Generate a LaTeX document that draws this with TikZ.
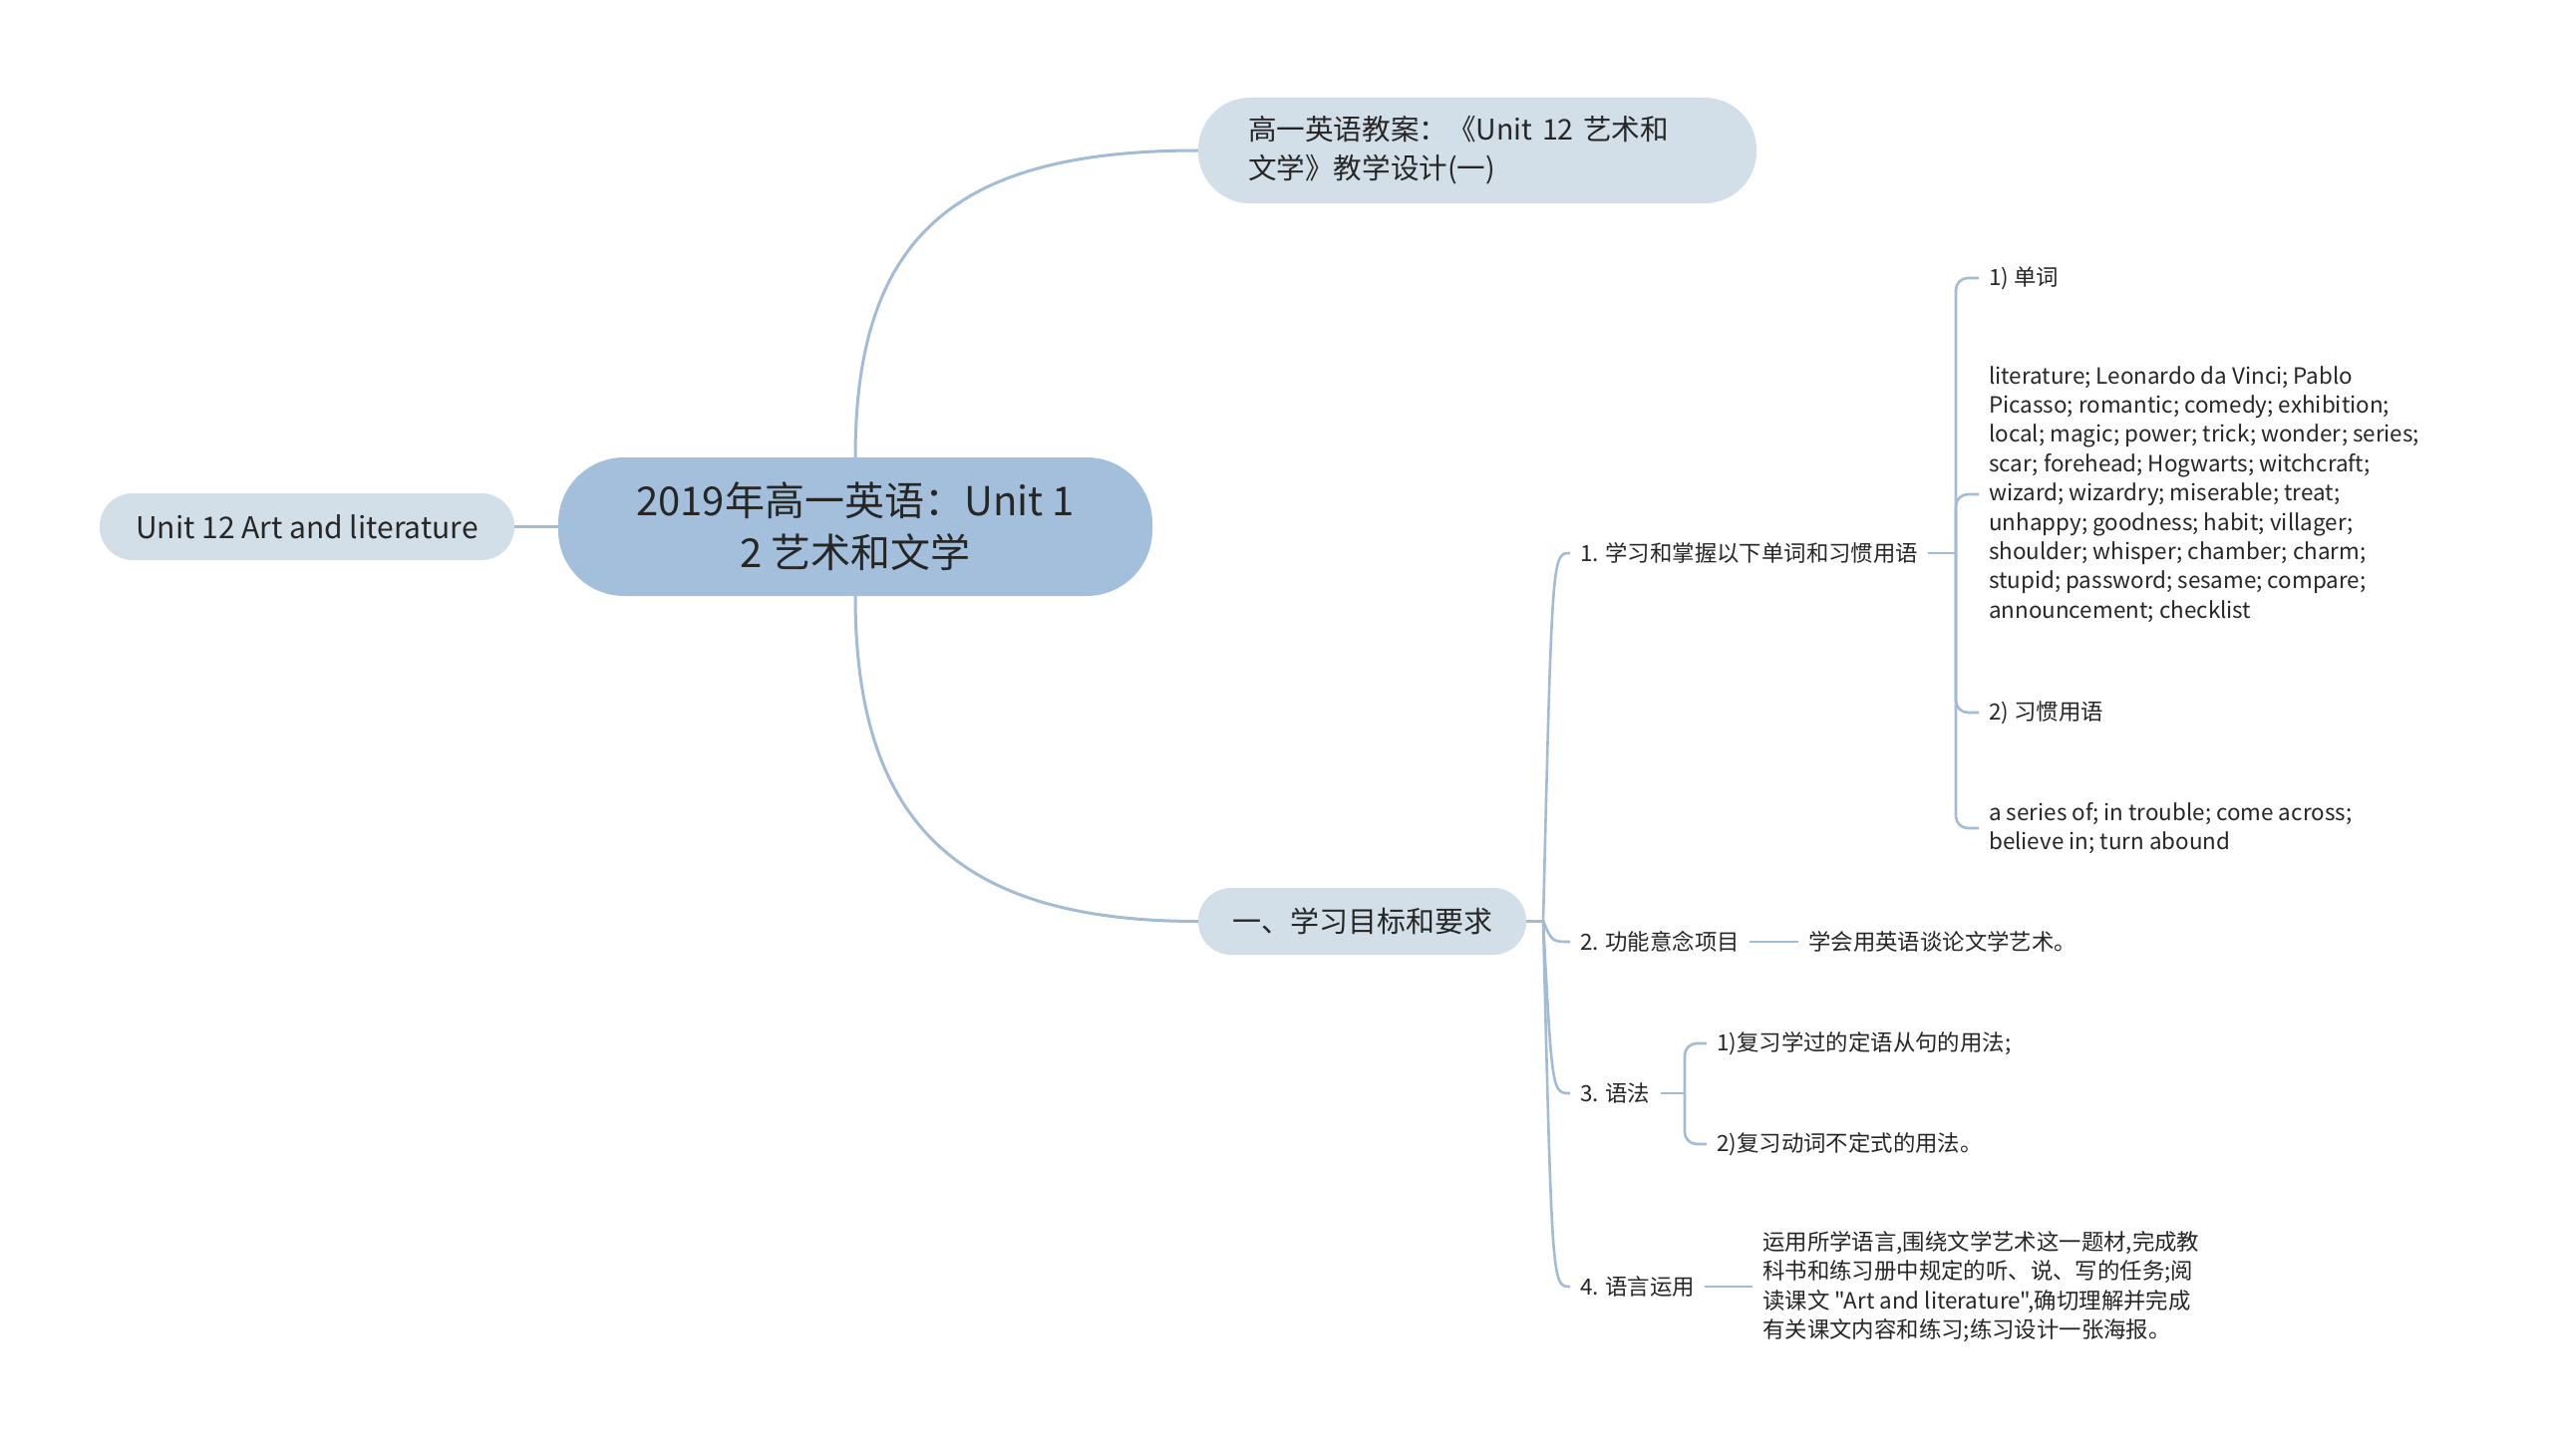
\documentclass[tikz,border=0pt]{standalone}
\usepackage{fontspec}
\setmainfont{Noto Sans CJK SC}[Ligatures=TeXOff]
\definecolor{cfill}{HTML}{A3BFDB}
\definecolor{lfill}{HTML}{D3DFE8}
\definecolor{linec}{HTML}{A3BCD4}
\definecolor{txt}{HTML}{262626}
\begin{document}
\begin{tikzpicture}[x=1pt,y=-1pt,
  conn/.style={draw=linec, line width=3pt},
  conn2/.style={draw=linec, line width=2.6pt, rounded corners=12pt},
  pill/.style={draw=none, inner sep=0pt, text=txt},
  small/.style={inner xsep=10pt, inner ysep=2pt, anchor=west, text=txt, font=\fontsize{22.4}{29.4}\selectfont, align=left}]
\fill[white] (0,0) rectangle (2560,1461);
\useasboundingbox (0,0) rectangle (2560,1461);

% main nodes
\node[pill, fill=cfill, minimum width=596pt, minimum height=139pt, rounded corners=66pt,
  font=\fontsize{40}{52}\selectfont, align=center] (c) at (858,528.5) {2019年高一英语：Unit 1\\2 艺术和文学};
\node[pill, fill=lfill, minimum width=560pt, minimum height=106pt, rounded corners=52pt,
  text width=460pt, align=left, font=\fontsize{28.6}{39}\selectfont] (top) at (1482,151) {高一英语教案：《Unit 12 艺术和\\文学》教学设计(一)};
\node[pill, fill=lfill, minimum width=416pt, minimum height=67pt, rounded corners=33pt,
  font=\fontsize{30}{36}\selectfont] (left) at (308,528.5) {Unit 12 Art and literature};
\node[pill, fill=lfill, minimum width=329pt, minimum height=67pt, rounded corners=33pt,
  font=\fontsize{29}{36}\selectfont] (sec) at (1366.5,924.5) {一、学习目标和要求};

% level 2
\node[small] (n1) at (1575,555) {1. 学习和掌握以下单词和习惯用语};
\node[small] (n2) at (1575,945) {2. 功能意念项目};
\node[small] (n3) at (1575,1097) {3. 语法};
\node[small] (n4) at (1575,1291) {4. 语言运用};

% level 3
\node[small] (w1) at (1985,279) {1) 单词};
\node[small] (w2) at (1985,496) {literature; Leonardo da Vinci; Pablo\\Picasso; romantic; comedy; exhibition;\\local; magic; power; trick; wonder; series;\\scar; forehead; Hogwarts; witchcraft;\\wizard; wizardry; miserable; treat;\\unhappy; goodness; habit; villager;\\shoulder; whisper; chamber; charm;\\stupid; password; sesame; compare;\\announcement; checklist};
\node[small] (w3) at (1985,715) {2) 习惯用语};
\node[small] (w4) at (1985,831) {a series of; in trouble; come across;\\believe in; turn abound};
\node[small] (t2) at (1804,945) {学会用英语谈论文学艺术。};
\node[small] (g1) at (1712,1047) {1)复习学过的定语从句的用法;};
\node[small] (g2) at (1712,1148) {2)复习动词不定式的用法。};
\node[small] (t4) at (1758,1291) {运用所学语言,围绕文学艺术这一题材,完成教\\科书和练习册中规定的听、说、写的任务;阅\\读课文 "Art and literature",确切理解并完成\\有关课文内容和练习;练习设计一张海报。};

% connectors from central
\draw[conn] (left.east) -- (c.west);
\draw[conn] (c.north) .. controls (858,235) and (960,151) .. (top.west);
\draw[conn] (c.south) .. controls (858,825) and (960,924.5) .. (sec.west);

% from sec
\coordinate (sp) at (1548,924.5);
\draw[conn] (sec.east) -- (sp);
\foreach \n/\y in {n1/555, n2/945, n3/1097, n4/1291}{
  \draw[conn2] (sp) .. controls (1557,\y) .. (\n.west);
}

% group 1
\coordinate (sp1) at (1962,555);
\draw[conn2] (n1.east) -- (sp1);
\foreach \n in {w1,w2,w3,w4}{
  \draw[conn2] (sp1) |- (\n.west);
}
% group 2
\draw[conn2] (n2.east) -- (t2.west);
% group 3
\coordinate (sp3) at (1690,1097);
\draw[conn2] (n3.east) -- (sp3);
\foreach \n in {g1,g2}{
  \draw[conn2] (sp3) |- (\n.west);
}
% group 4
\draw[conn2] (n4.east) -- (t4.west);
\end{tikzpicture}
\end{document}
